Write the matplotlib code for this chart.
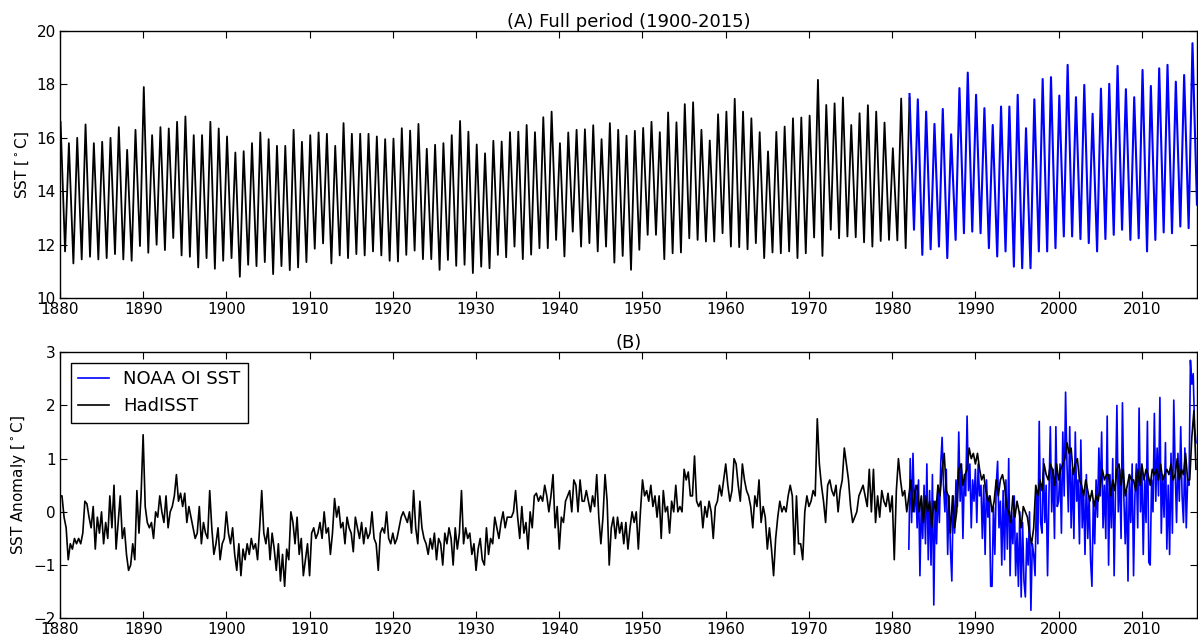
import numpy as np
import matplotlib
matplotlib.use("Agg")
import matplotlib.pyplot as plt

# --- (A) seasonal cycle: yearly maxima (early in the year) and minima (late winter) ---
# HadISST peaks 1880-1982
had_peaks = [16.6, 15.8, 16.0, 16.5, 15.8, 15.85, 16.0, 16.4, 15.55, 16.3,
             17.9, 16.1, 16.4, 16.35, 16.6, 16.8, 16.1, 16.1, 16.6, 16.35,
             16.05, 15.45, 15.5, 15.8, 16.2, 15.95, 15.7, 15.7, 16.3, 15.85,
             16.1, 16.2, 16.15, 15.7, 16.55, 16.15, 16.15, 16.15, 16.05, 15.95,
             15.97, 16.36, 16.27, 16.52, 15.59, 15.74, 15.8, 16.1, 16.63, 16.23,
             15.75, 15.42, 15.89, 15.86, 16.21, 16.23, 16.48, 16.21, 16.77, 16.98,
             15.8, 16.2, 16.3, 16.32, 16.47, 15.95, 16.55, 16.3, 16.08, 16.26,
             16.37, 16.6, 16.21, 16.95, 16.58, 17.26, 17.33, 16.3, 15.9, 16.88,
             16.98, 17.46, 16.98, 16.73, 16.21, 15.49, 16.22, 16.42, 16.73, 16.76,
             16.83, 18.17, 17.23, 17.29, 17.51, 16.48, 16.92, 17.22, 16.98, 16.57,
             15.61, 17.47, 17.5]
# HadISST troughs 1880-1981
had_troughs = [11.75, 11.3, 11.45, 11.55, 11.45, 11.5, 11.65, 11.45, 11.4, 11.95,
               11.7, 12.0, 11.8, 12.25, 11.6, 11.55, 11.15, 11.5, 11.1, 11.4,
               11.5, 10.8, 11.25, 11.2, 11.35, 10.9, 11.2, 11.05, 11.15, 11.35,
               11.85, 12.05, 11.3, 11.6, 11.5, 11.65, 11.6, 11.75, 11.6, 11.4,
               11.37, 11.62, 11.78, 11.46, 11.46, 11.06, 11.43, 11.21, 11.25, 10.94,
               11.18, 11.12, 11.62, 11.53, 11.93, 11.46, 11.63, 11.87, 11.87, 12.18,
               11.56, 12.49, 11.93, 12.06, 11.75, 11.93, 11.33, 11.58, 11.06, 11.81,
               12.37, 12.37, 11.46, 11.68, 11.71, 12.24, 12.18, 12.12, 12.12, 12.43,
               11.93, 11.91, 11.83, 12.06, 11.5, 11.71, 11.68, 11.75, 11.5, 11.68,
               12.27, 11.58, 12.56, 12.24, 12.31, 12.28, 12.09, 11.93, 12.14, 12.18,
               12.16, 11.87]
# NOAA OI SST peaks 1982-2016, troughs 1982-2016 (last one = end of record)
noaa_peaks = [17.64, 17.44, 16.98, 16.52, 17.08, 16.13, 17.86, 18.44, 17.61, 17.11,
              16.48, 17.17, 17.17, 17.61, 16.36, 17.44, 18.2, 18.27, 17.58, 18.73,
              17.52, 17.98, 16.9, 17.84, 18.02, 18.69, 17.82, 17.52, 18.54, 17.94,
              18.6, 18.73, 18.1, 18.35, 19.54]
noaa_troughs = [12.56, 11.62, 11.83, 11.93, 11.5, 12.18, 12.43, 12.49, 12.43, 11.87,
                11.56, 11.75, 11.18, 11.12, 11.12, 11.75, 11.75, 11.87, 12.31, 12.31,
                12.21, 12.06, 11.75, 12.21, 12.37, 12.56, 12.18, 12.24, 11.75, 12.18,
                12.46, 12.43, 12.68, 12.62, 13.5]

# --- (B) anomalies ---
# HadISST, 4 values per year from 1880.0
had_anom = [
    0.3, 0.3, -0.1, -0.3,  -0.9, -0.6, -0.7, -0.5,  -0.6, -0.5, -0.6, -0.4,  0.2, 0.15, -0.1, -0.3,
    0.1, -0.7, -0.1, -0.4,  0.0, -0.6, -0.2, -0.5,  0.3, -0.3, 0.5, -0.7,  -0.2, 0.3, -0.5, -0.3,
    -0.8, -1.1, -1.0, -0.6,  -0.9, 0.4, -0.4, 0.3,
    1.45, 0.1, -0.2, -0.3,  -0.2, -0.5, 0.0, -0.1,  0.3, 0.0, -0.2, 0.3,  -0.3, 0.0, 0.1, 0.3,
    0.7, 0.2, 0.35, 0.1,  0.35, -0.2, 0.1, -0.1,  -0.3, -0.5, -0.4, 0.1,  -0.6, -0.2, -0.4, -0.5,
    0.4, -0.3, -0.8, -0.6,  -0.3, -0.9, -0.6, -0.5,
    0.0, -0.4, -0.6, -0.3,  -0.8, -1.1, -0.6, -1.2,  -0.7, -0.9, -0.6, -0.8,  -0.5, -0.7, -0.6, -0.9,
    -0.3, 0.4, -0.4, -0.6,  -0.3, -0.9, -0.4, -0.7,  -1.1, -0.6, -1.3, -0.8,  -1.4, -0.7, -0.9, 0.0,
    -0.2, -0.6, -0.1, -0.8,  -0.5, -1.2, -0.9, -0.6,
    -1.2, -0.4, -0.3, -0.5,  -0.4, -0.2, -0.5, 0.0,  -0.4, -0.3, -0.8, -0.4,  0.25, -0.1, 0.1, -0.3,
    -0.2, -0.6, -0.1, -0.3,  -0.4, -0.75, -0.1, -0.3,  -0.5, -0.2, -0.6, -0.3,  -0.5, -0.4, 0.0, -0.5,
    -0.6, -1.1, -0.4, -0.3,  -0.4, 0.0, -0.5, -0.6,
    -0.4, -0.6, -0.5, -0.3,  -0.1, 0.0, -0.1, -0.2,  0.0, -0.4, 0.4, -0.3,  -0.6, 0.2, -0.3, -0.5,
    -0.6, -0.8, -0.5, -0.7,  -0.4, -0.9, -0.5, -0.6,  -1.0, -0.4, -0.6, -0.3,  -0.5, -1.0, -0.3, -0.7,
    -0.4, 0.4, -0.6, -0.3,  -0.5, -0.4, -0.8, -0.6,
    -1.1, -0.7, -0.5, -0.9,  -1.0, -0.3, -0.8, -0.5,  -0.6, -0.1, -0.3, -0.5,  -0.2, 0.0, -0.3, -0.1,
    -0.1, -0.1, 0.0, 0.4,  -0.1, -0.5, 0.1, -0.4,  -0.2, -0.7, 0.0, -0.3,  0.3, 0.35, 0.2, 0.3,
    0.2, 0.5, 0.3, 0.0,  0.3, 0.7, -0.3, 0.1,
    -0.7, -0.1, -0.2, 0.2,  0.3, 0.4, 0.0, 0.6,  0.5, 0.0, 0.6, 0.2,  0.2, 0.4, 0.2, 0.0,
    0.3, 0.1, 0.7, -0.1,  -0.6, -0.1, 0.7, 0.2,  -1.0, -0.3, -0.1, -0.5,  -0.1, -0.4, -0.2, -0.6,
    -0.2, -0.7, -0.3, 0.0,  -0.2, 0.0, -0.7, 0.0,
    0.6, 0.3, 0.4, 0.2,  0.5, 0.1, 0.3, -0.1,  0.3, -0.5, 0.4, 0.0,  0.1, -0.4, 0.2, 0.0,
    0.5, 0.0, 0.1, 0.0,  0.8, 0.6, 0.75, 0.3,  0.3, 1.05, 0.2, 0.1,  0.2, -0.3, 0.1, -0.1,
    0.2, 0.0, -0.5, 0.1,  0.2, 0.5, 0.3, 0.6,
    0.9, 0.5, 0.2, 0.4,  1.0, 0.9, 0.5, 0.2,  0.9, 0.6, 0.4, 0.3,  0.1, -0.3, 0.3, 0.1,
    0.6, -0.2, 0.1, -0.1,  -0.7, -0.3, -0.7, -1.2,  -0.5, -0.1, 0.2, 0.0,  0.1, 0.0, 0.3, 0.5,
    0.3, -0.8, 0.3, -0.6,  -0.6, -0.9, 0.0, 0.3,
    0.1, 0.2, 0.4, 0.3,  1.75, 0.9, 0.5, 0.2,  -0.2, 0.5, 0.6, 0.4,  0.3, 0.5, 0.0, 0.4,
    0.6, 1.2, 0.9, 0.6,  0.1, -0.2, -0.1, 0.0,  0.3, 0.4, 0.5, 0.3,  0.1, 0.8, 0.0, 0.8,
    -0.2, 0.3, -0.1, 0.4,  0.2, 0.1, 0.35, 0.0,
    0.3, -0.9, 0.4, 1.0,  0.6, 0.3, 0.4, 0.0,  0.3, 0.6, 0.0, 0.4,  0.5, 0.0, 0.3, -0.2,
    0.3, 0.0, 0.2, -0.3,  0.2, 0.0, 0.5, 0.3,  0.8, 1.1, 0.4, 0.3,  -0.4, 0.3, -0.3, 0.0,
    0.8, 0.9, 0.5, 0.7,  0.8, 1.2, 1.0, 1.1,
    0.9, 1.1, 0.8, 0.6,  0.7, 0.4, 0.2, 0.3,  0.0, 0.2, 0.6, 0.3,  0.6, 0.7, 0.5, 0.1,
    0.0, -0.2, 0.3, -0.1,  0.2, 0.0, -0.3, 0.1,  0.0, -0.1, -0.4, -0.6,  -0.3, 0.5, 0.3, 0.6,
    0.4, 0.9, 0.7, 0.6,  0.9, 0.8, 0.5, 0.9,
    0.6, 0.8, 0.9, 1.0,  1.3, 1.1, 1.2, 0.7,  0.9, 1.0, 0.6, 0.5,  0.3, 0.6, 0.4, 0.2,
    0.4, 0.1, 0.3, 0.2,  0.5, 0.8, 0.6, 0.7,  0.7, 0.3, 0.6, 0.4,  0.8, 0.9, 0.5, 0.8,
    0.3, 0.5, 0.7, 0.6,  0.6, 0.4, 0.8, 0.5,
    0.9, 0.6, 0.8, 0.7,  0.5, 0.8, 0.7, 0.8,  0.6, 0.9, 0.6, 0.7,  0.8, 0.7, 0.9, 0.6,
    0.7, 1.0, 0.6, 0.8,  0.7, 1.1, 0.6, 0.6,
    1.4, 1.9, 0.8]
# NOAA OI SST, 6 values per year from 1982.0
noaa_anom = [
    -0.7, 1.0, -0.2, 1.1, 0.0, 0.5,   -0.3, 0.6, -1.2, 0.2, -0.5, 0.5,
    -0.6, 0.9, -0.9, 0.4, -1.0, 0.7,  -1.75, 0.2, -0.6, 0.5, -0.2, 0.9,
    1.4, 0.5, 0.0, 0.8, -0.8, 0.3,    -0.7, -1.3, 0.3, -0.4, 0.6, 0.1,
    1.5, 0.2, 0.9, -0.5, 0.7, 0.3,    1.8, 0.4, 0.9, -0.3, 0.6, 0.2,
    0.8, -0.2, 0.9, 0.3, 0.5, -0.5,   0.5, -0.8, 0.6, -0.1, 0.3, -1.4,
    -1.4, 0.1, -0.8, 0.5, 0.95, -0.3, 0.2, -1.0, 0.4, -0.9, 0.6, -0.7,
    1.0, -1.2, 0.0, -0.6, 0.3, -1.2,  -0.4, -1.4, 0.0, -1.6, -0.2, -1.3,
    -1.6, -0.5, -1.0, 0.0, -1.85, -0.6, -0.8, -1.2, 0.4, -0.6, 1.7, -0.2,
    -0.4, 1.0, -0.2, 0.5, -1.2, 0.3,  1.6, 0.0, 0.8, -0.5, 1.6, 0.1,
    0.2, 0.9, -0.4, 1.5, 0.3, 2.25,   0.9, 0.0, 1.6, -0.3, 0.8, -0.5,
    1.5, 0.2, 0.6, -0.6, 1.35, -0.3,  0.4, -0.8, 0.7, -0.5, 0.3, -0.9,
    -1.4, 0.2, -0.6, 0.6, -0.1, 1.2,  0.3, 1.5, -0.3, 0.5, -0.5, 1.8,
    -1.0, 0.7, -0.3, 1.0, -1.2, 0.4,  2.0, 0.0, 0.8, -0.5, 2.05, 0.3,
    -0.6, 0.4, -1.3, 0.7, -0.2, 0.9,  -1.2, 0.3, 0.9, -0.3, 1.95, 0.0,
    0.8, -0.8, 0.6, -0.2, 1.7, -0.95, -1.0, 0.6, 0.0, 1.85, 0.2, 1.2,
    0.3, 2.15, -0.4, 0.7, -0.1, 1.3,  -0.7, 0.5, -0.8, 1.1, -0.4, 2.1,
    0.8, -0.2, 1.1, 0.2, 1.6, 0.3,    -0.2, 1.2, -0.3, 0.6, 0.5, 2.85,
    2.4, 2.6, 1.6, 1.3]

# build the seasonal zig-zag: peaks early in the year, troughs around August
def seasonal(start, peaks, troughs):
    t, v = [], []
    for i in range(len(peaks)):
        t.append(start + i + 0.08)
        v.append(peaks[i])
        if i < len(troughs):
            t.append(start + i + 0.62)
            v.append(troughs[i])
    return np.array(t), np.array(v)

t_had, v_had = seasonal(1880, had_peaks, had_troughs)
t_noaa, v_noaa = seasonal(1982, noaa_peaks, noaa_troughs)

t_had_a = 1880 + np.arange(len(had_anom)) * 0.25
t_noaa_a = 1982 + np.arange(len(noaa_anom)) / 6.0

plt.rcParams['font.family'] = 'DejaVu Sans'
plt.rcParams['font.size'] = 11

fig = plt.figure(figsize=(11.98, 6.44), dpi=100)
ax1 = fig.add_axes([0.050, 0.537, 0.949, 0.415])
ax2 = fig.add_axes([0.050, 0.040, 0.949, 0.413])

ax1.plot(t_had, v_had, color='k', linewidth=1.3)
ax1.plot(t_noaa, v_noaa, color='b', linewidth=1.5)
ax1.set_ylim(10, 20)
ax1.set_title('(A) Full period (1900-2015)', fontsize=13, pad=3)
ax1.set_ylabel(r'SST [$^\circ$C]')

ax2.plot(t_noaa_a, noaa_anom, color='b', linewidth=1.2, label='NOAA OI SST')
ax2.plot(t_had_a, had_anom, color='k', linewidth=1.2, label='HadISST')
ax2.set_ylim(-2, 3)
ax2.set_title('(B)', fontsize=13, pad=3)
ax2.set_ylabel(r'SST Anomaly [$^\circ$C]')
leg = ax2.legend(loc='upper left', fontsize=13, fancybox=False, framealpha=1,
                 edgecolor='k', handlelength=1.7, borderaxespad=0.6)
leg.get_frame().set_linewidth(1.0)

for ax in (ax1, ax2):
    ax.set_xlim(1880, 2016.6)
    ax.set_xticks(np.arange(1880, 2011, 10))
    ax.tick_params(direction='in', top=True, right=True, length=5, labelsize=11, pad=3)
    for s in ax.spines.values():
        s.set_linewidth(1.0)

fig.savefig('out.png', dpi=100)
